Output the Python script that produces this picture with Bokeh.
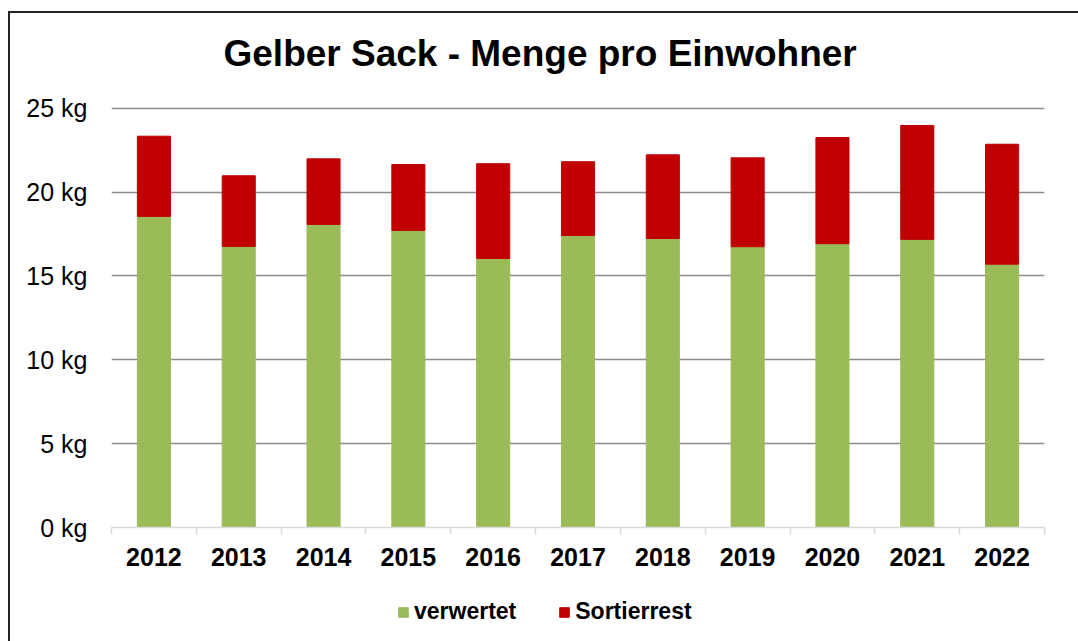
from bokeh.plotting import figure
from bokeh.models import Range1d, FixedTicker, Legend, LegendItem
from bokeh.layouts import column
from bokeh.embed import file_html
from bokeh.resources import INLINE

title_text = "Gelber Sack - Menge pro Einwohner"
years = ["2012", "2013", "2014", "2015", "2016", "2017", "2018", "2019", "2020", "2021", "2022"]
verwertet = [18.55, 16.76, 18.07, 17.71, 16.04, 17.41, 17.23, 16.74, 16.92, 17.18, 15.70]
sortierrest = [4.78, 4.21, 3.91, 3.93, 5.65, 4.40, 4.99, 5.30, 6.33, 6.79, 7.15]
series = ["verwertet", "Sortierrest"]
colors = ["#9BBB59", "#C00000"]
y_ticks = [0, 5, 10, 15, 20, 25]

FONT = "Liberation Sans"
xpos = [i + 0.5 for i in range(len(years))]
data = {"x": xpos, "verwertet": verwertet, "Sortierrest": sortierrest}


def strip(height, **kw):
    f = figure(width=1068, height=height, output_backend="svg", toolbar_location=None,
               x_range=Range1d(0, 1), y_range=Range1d(0, 1),
               x_axis_type=None, y_axis_type=None,
               min_border_left=0, min_border_right=0, min_border_top=0, min_border_bottom=0, **kw)
    f.outline_line_color = None
    f.grid.grid_line_color = None
    f.background_fill_color = "white"
    f.border_fill_color = "white"
    return f


# title strip
pt = strip(80, title=title_text)
pt.title.text_font = FONT
pt.title.text_font_size = "37px"
pt.title.text_font_style = "bold"
pt.title.text_color = "#000000"
pt.title.align = "left"
pt.title.offset = 112
pt.title.standoff = 35

p = figure(width=1068, height=492, output_backend="svg", toolbar_location=None,
           x_range=Range1d(0, len(years)), y_range=Range1d(0, 25.1),
           min_border_left=101, min_border_right=34, min_border_top=13, min_border_bottom=58)

rs = p.vbar_stack(series, x="x", width=0.39, source=data, color=colors, line_color=colors)

p.outline_line_color = None
p.background_fill_color = "white"
p.border_fill_color = "white"

# y axis
p.yaxis.ticker = FixedTicker(ticks=y_ticks)
p.yaxis.major_label_overrides = {t: f"{t} kg" for t in y_ticks}
p.yaxis.axis_line_color = None
p.yaxis.major_tick_line_color = None
p.yaxis.major_tick_out = 0
p.yaxis.major_tick_in = 0
p.yaxis.minor_tick_line_color = None
p.yaxis.minor_tick_out = 0
p.yaxis.minor_tick_in = 0
p.yaxis.major_label_standoff = 24
p.yaxis.major_label_text_font = FONT
p.yaxis.major_label_text_font_size = "25px"
p.yaxis.major_label_text_color = "#000000"

# x axis
p.xaxis.ticker = FixedTicker(ticks=xpos, minor_ticks=list(range(len(years) + 1)))
p.xaxis.major_label_overrides = {x: y for x, y in zip(xpos, years)}
p.xaxis.axis_line_color = "#D9D9D9"
p.xaxis.axis_line_width = 1.5
p.xaxis.major_tick_line_color = None
p.xaxis.major_tick_out = 0
p.xaxis.major_tick_in = 0
p.xaxis.minor_tick_line_color = "#D9D9D9"
p.xaxis.minor_tick_line_width = 1.5
p.xaxis.minor_tick_out = 7
p.xaxis.minor_tick_in = 0
p.xaxis.major_label_standoff = 13
p.xaxis.major_label_text_font = FONT
p.xaxis.major_label_text_font_size = "25px"
p.xaxis.major_label_text_font_style = "bold"
p.xaxis.major_label_text_color = "#000000"

p.xgrid.grid_line_color = None
p.ygrid.ticker = FixedTicker(ticks=[t for t in y_ticks if t > 0])
p.ygrid.grid_line_color = "#8C8C8C"
p.ygrid.grid_line_width = 1.5

# legend strip below the chart
pl = strip(56)
swatches = [pl.vbar(x="x", top=s, width=0.39, source=data, color=c, visible=False)
            for s, c in zip(series, colors)]

legend = Legend(items=[LegendItem(label=s, renderers=[r]) for s, r in zip(series, swatches)],
                orientation="horizontal", location=(286, 16))
legend.glyph_width = 12
legend.glyph_height = 12
legend.label_standoff = 5
legend.spacing = 42
legend.padding = 0
legend.margin = 0
legend.border_line_color = None
legend.background_fill_alpha = 0
legend.inactive_fill_alpha = 0
legend.click_policy = "none"
legend.label_text_font = FONT
legend.label_text_font_size = "23px"
legend.label_text_font_style = "bold"
legend.label_text_color = "#000000"
pl.add_layout(legend, "center")

layout = column(pt, p, pl, spacing=0)
layout.styles = {"border-left": "2px solid #222222", "border-top": "2px solid #222222",
                 "margin-left": "8px", "margin-top": "11px"}

open("out.html", "w").write(file_html(layout, INLINE))
